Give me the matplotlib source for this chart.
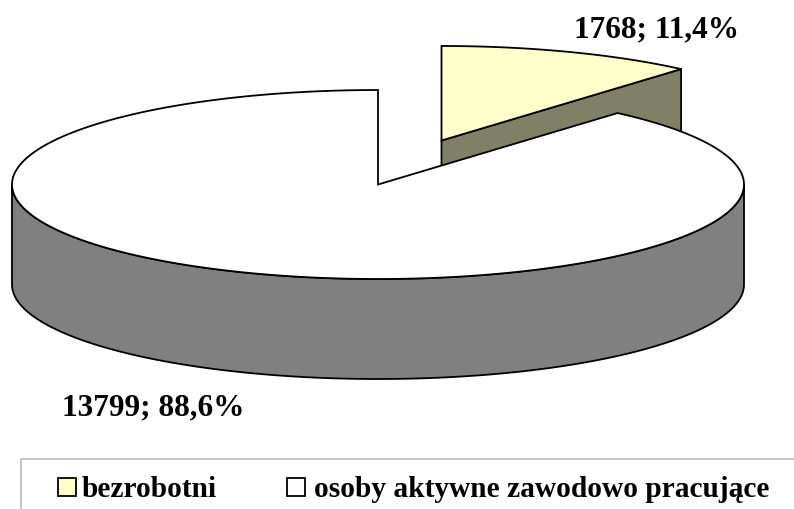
import numpy as np
import matplotlib
matplotlib.use('Agg')
import matplotlib.pyplot as plt
from matplotlib.patches import Polygon, Rectangle

labels = ['bezrobotni', 'osoby aktywne zawodowo pracujące']
values = [1768, 13799]
percents = ['11,4%', '88,6%']
top_colors = ['#FFFFCC', '#FFFFFF']
side_colors = ['#808066', '#808080']

RX, RY, DEPTH = 366, 94.5, 100
CENTERS = [(441.5, 141.5), (378, 185.5)]
LW = 1.3

plt.rcParams['font.family'] = ['Liberation Serif', 'DejaVu Serif']


def rim(center, t0, t1):
	# t runs clockwise from the top of the ellipse, in radians
	t = np.linspace(t0, t1, 300)
	return np.column_stack((center[0] + RX * np.sin(t), center[1] - RY * np.cos(t)))


fig = plt.figure(figsize=(7.94, 5.10), dpi=100)
ax = fig.add_axes([0, 0, 1, 1])
ax.set_xlim(0, 794)
ax.set_ylim(510, 0)
ax.axis('off')

split = 2 * np.pi * values[0] / sum(values)

# small slice, pulled out, sits behind the big one
c = CENTERS[0]
arc = rim(c, 0, split)
tip = arc[-1]
ax.add_patch(Polygon([c, tip, (tip[0], tip[1] + DEPTH), (c[0], c[1] + DEPTH)], closed=True,
	fc=side_colors[0], ec='black', lw=LW))
ax.add_patch(Polygon(np.vstack(([c], arc)), closed=True, fc=top_colors[0], ec='black', lw=LW))

# big slice: outer wall for the front half, then the top
c = CENTERS[1]
front = rim(c, np.pi / 2, 3 * np.pi / 2)
wall = np.vstack((front, front[::-1] + (0, DEPTH)))
ax.add_patch(Polygon(wall, closed=True, fc=side_colors[1], ec='black', lw=LW))
arc = rim(c, split, 2 * np.pi)
ax.add_patch(Polygon(np.vstack(([c], arc)), closed=True, fc=top_colors[1], ec='black', lw=LW))

ax.text(656, 30, '%d; %s' % (values[0], percents[0]), ha='center', va='center',
	fontsize=22.5, fontweight='bold')
ax.text(153, 408, '%d; %s' % (values[1], percents[1]), ha='center', va='center',
	fontsize=22.5, fontweight='bold')

# legend box runs off the bottom and right of the picture
ax.plot([21, 21, 794], [510, 460, 460], color='#BEBEBE', lw=1.2, solid_joinstyle='miter')
swatch_x = [58, 287]
text_x = [82, 314]
for i in range(2):
	ax.add_patch(Rectangle((swatch_x[i], 479), 17.5, 18, fc=top_colors[i], ec='black', lw=LW))
	ax.text(text_x[i], 490, labels[i], ha='left', va='center', fontsize=21.2, fontweight='bold')

fig.savefig('out.png', dpi=100)
